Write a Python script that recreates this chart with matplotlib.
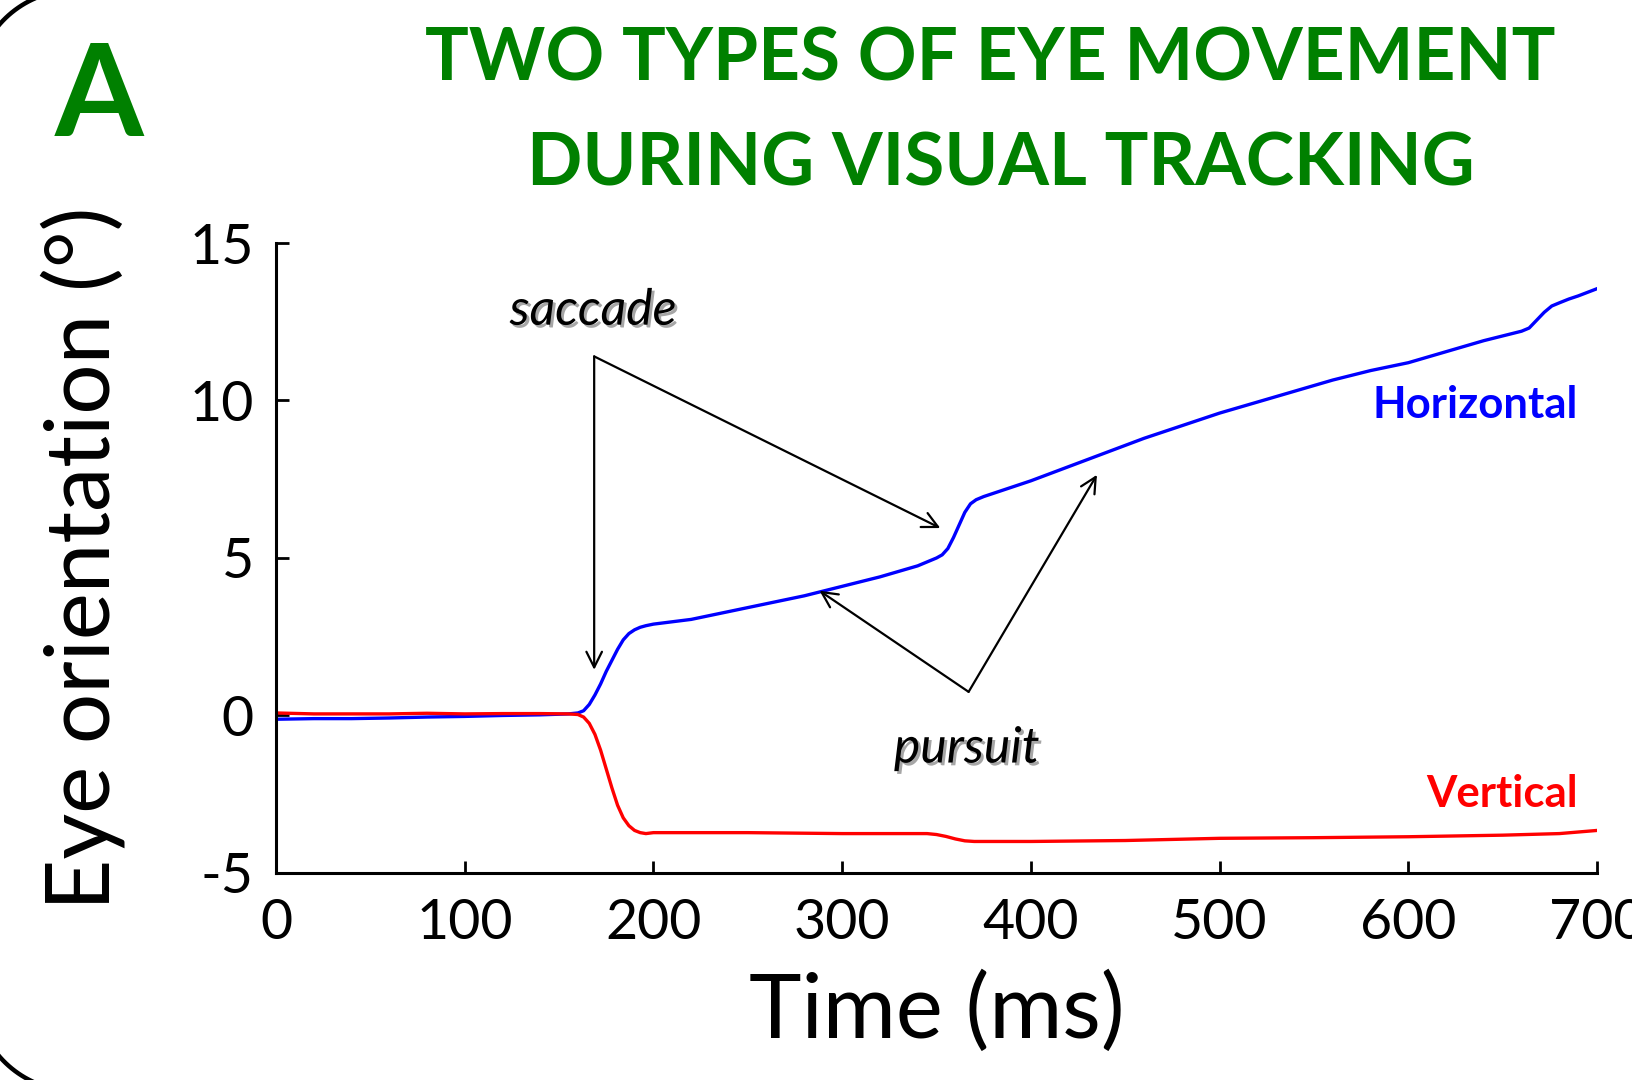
import numpy as np
import matplotlib
matplotlib.use('Agg')
import matplotlib.pyplot as plt
import matplotlib.patheffects as pe

plt.rcParams['font.family'] = ['Lato', 'DejaVu Sans']
plt.rcParams['axes.unicode_minus'] = False

# eye traces (ms, degrees)
t_h = [0, 20, 40, 60, 80, 100, 120, 140, 155, 160, 163, 166, 169, 172, 175, 178, 181, 184, 187,
       190, 193, 196, 200, 220, 240, 260, 280, 300, 320, 340, 350, 353, 356, 359, 362, 365, 368,
       371, 375, 380, 400, 420, 440, 460, 480, 500, 520, 540, 560, 580, 600, 620, 640, 660,
       664, 668, 672, 676, 680, 685, 690, 700]
horiz = [-0.12, -0.1, -0.1, -0.08, -0.05, -0.03, 0.0, 0.02, 0.05, 0.08, 0.15, 0.35, 0.65, 1.0,
         1.4, 1.75, 2.1, 2.4, 2.6, 2.72, 2.8, 2.85, 2.9, 3.05, 3.3, 3.55, 3.8, 4.1, 4.4, 4.75,
         5.0, 5.1, 5.3, 5.65, 6.05, 6.45, 6.72, 6.85, 6.95, 7.05, 7.45, 7.9, 8.35, 8.8, 9.2,
         9.6, 9.95, 10.3, 10.65, 10.95, 11.2, 11.55, 11.9, 12.2, 12.3, 12.55, 12.8, 13.0, 13.1,
         13.22, 13.32, 13.55]

t_v = [0, 20, 40, 60, 80, 100, 120, 140, 155, 160, 163, 166, 169, 172, 175, 178, 181, 184, 187,
       190, 193, 196, 200, 250, 300, 345, 350, 355, 360, 365, 370, 375, 400, 450, 500, 550, 600,
       650, 680, 700]
vert = [0.08, 0.05, 0.05, 0.05, 0.07, 0.05, 0.06, 0.06, 0.05, 0.03, -0.05, -0.25, -0.6, -1.1,
        -1.7, -2.3, -2.85, -3.25, -3.5, -3.65, -3.72, -3.75, -3.72, -3.72, -3.75, -3.75, -3.78,
        -3.84, -3.92, -3.98, -4.0, -4.0, -4.0, -3.97, -3.9, -3.88, -3.85, -3.8, -3.75, -3.65]

xticks = [0, 100, 200, 300, 400, 500, 600, 700]
yticks = [-5, 0, 5, 10, 15]

green = '#008000'

fig = plt.figure(figsize=(16.33, 10.8), dpi=100)

# rounded frame, mostly off the canvas (pixel coordinates, y down)
bg = fig.add_axes([0, 0, 1, 1])
bg.set_xlim(0, 1633)
bg.set_ylim(1080, 0)
bg.axis('off')
r = 100
a1 = np.linspace(np.pi, 1.5 * np.pi, 40)
a2 = np.linspace(0.5 * np.pi, np.pi, 40)
top_x = 75 + r * np.cos(a1)
top_y = 90 + r * np.sin(a1)
bot_x = 75 + r * np.cos(a2)
bot_y = 991 + r * np.sin(a2)
frame_x = np.concatenate([[2000], top_x[::-1], bot_x[::-1], [2000]])
frame_y = np.concatenate([[-10], top_y[::-1], bot_y[::-1], [1091]])
bg.plot(frame_x, frame_y, color='black', lw=3.2, clip_on=False)

ax = fig.add_axes([0.169, 0.1917, 0.809, 0.5833])
ax.plot(t_h, horiz, color='#0000ff', lw=2.4)
ax.plot(t_v, vert, color='#ff0000', lw=2.4)
ax.set_xlim(0, 700)
ax.set_ylim(-5, 15)
ax.set_xticks(xticks)
ax.set_yticks(yticks)
for s in ['top', 'right']:
    ax.spines[s].set_visible(False)
for s in ['left', 'bottom']:
    ax.spines[s].set_linewidth(2.2)
ax.tick_params(direction='in', length=9, width=2, labelsize=40)
ax.tick_params(axis='x', pad=18)
ax.tick_params(axis='y', pad=16)
ax.set_xlabel('Time (ms)', fontsize=64, labelpad=16)
ax.set_ylabel('Eye orientation (°)', fontsize=64, labelpad=46)

shadow = [pe.SimplePatchShadow(offset=(2, -2), alpha=0.35), pe.Normal()]
ax.text(168, 12.85, 'saccade', fontsize=36, style='italic', ha='center', va='center',
        path_effects=shadow)
ax.text(366, -1.05, 'pursuit', fontsize=36, style='italic', ha='center', va='center',
        path_effects=shadow)

arrow = dict(arrowstyle='->', lw=1.6, color='black', mutation_scale=28, shrinkA=0, shrinkB=0)
for end in [(168.6, 1.45), (352, 5.95)]:
    ax.annotate('', xy=end, xytext=(168.6, 11.4), arrowprops=arrow)
for end in [(288, 3.96), (435, 7.64)]:
    ax.annotate('', xy=end, xytext=(367, 0.75), arrowprops=arrow)

ax.text(690, 9.87, 'Horizontal', color='#0000ff', fontsize=31.5, fontweight='bold',
        ha='right', va='center')
ax.text(690, -2.5, 'Vertical', color='#ff0000', fontsize=31.5, fontweight='bold',
        ha='right', va='center')

fig.text(990 / 1633, 1 - 60 / 1080, 'TWO TYPES OF EYE MOVEMENT', color=green, fontsize=52.5,
         fontweight='bold', ha='center', va='center')
fig.text(1001 / 1633, 1 - 165 / 1080, 'DURING VISUAL TRACKING', color=green, fontsize=52.5,
         fontweight='bold', ha='center', va='center')
fig.text(99 / 1633, 1 - 100 / 1080, 'A', color=green, fontsize=92, fontweight='bold',
         ha='center', va='center')

fig.savefig('out.png', dpi=100)
